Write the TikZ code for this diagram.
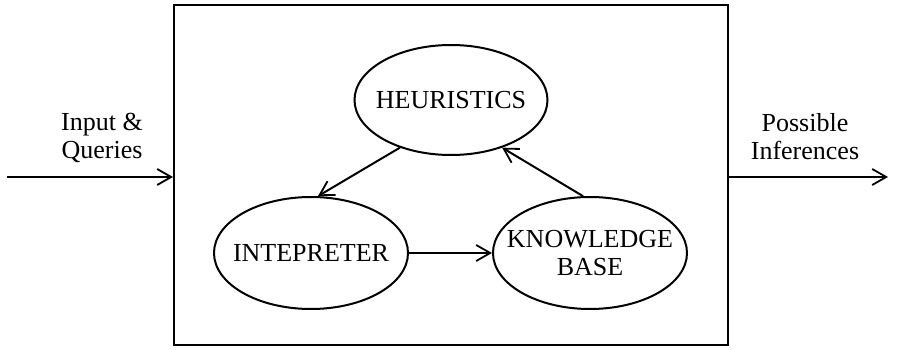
\documentclass[tikz,border=0pt]{standalone}
\usepackage{fontspec}
\setmainfont{Liberation Serif}
\usetikzlibrary{shapes.geometric,arrows.meta,positioning}

\begin{document}
\begin{tikzpicture}[x=1pt,y=-1pt,
  oval/.style = {draw, ellipse, line width=2pt, inner xsep=-20pt, inner ysep=-12pt, align=center},
  lbl/.style = {align=center},
  arr/.style = {line width=2pt, -{Straight Barb[length=14pt,width=16pt,line width=1.8pt]}},
  every node/.style = {font=\fontsize{26}{28}\selectfont}]
\useasboundingbox (0,0) rectangle (898,350);
\node[draw, line width=2pt, minimum width=554pt, minimum height=340pt] (sys) at (451,175) {};
\node[oval, minimum width=193pt, minimum height=110pt] (heur) at (451,100) {HEURISTICS};
\node[oval, minimum width=194pt, minimum height=112pt] (intep) at (311,253) {INTEPRETER};
\node[oval, minimum width=194pt, minimum height=112pt] (kb) at (590,253) {KNOWLEDGE\\BASE};
\node[lbl] (inp) at (102,138) {Input \&\\Queries};
\node[lbl] (outp) at (805,137) {Possible\\Inferences};
\coordinate (src) at (7,177);
\coordinate (dst) at (888,177);
\draw[arr] (src) -- (src -| sys.west);
\draw[arr] (dst -| sys.east) -- (dst);
\draw[arr] (heur.223) -- (intep.83);
\draw[arr] (kb.97) -- (heur.317);
\draw[arr] (intep.east) -- (kb.west);
\end{tikzpicture}
\end{document}
